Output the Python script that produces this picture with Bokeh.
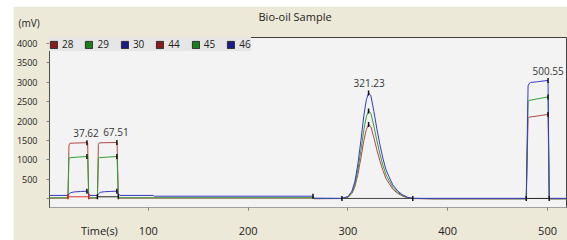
import math
from bokeh.plotting import figure
from bokeh.models import (ColumnDataSource, Legend, LegendItem, Label, FixedTicker, Range1d)
from bokeh.core.properties import value
from bokeh.embed import file_html
from bokeh.resources import INLINE

# ---------------- data ----------------
series_names = ["28", "29", "30", "44", "45", "46"]

# channel 28 (red)
t_r = [1, 19.5, 20.5, 21.5, 38.5, 39.2, 40.3, 49, 50, 51, 68, 68.7, 70, 265, 266,
       294, 300, 304, 307, 310, 313, 316, 318.5, 320.7, 323, 326, 329, 332, 335, 338,
       341, 345, 350, 355, 360, 365, 385, 478.7, 480.5, 481.5, 490, 500.5, 501.7, 519]
mv_r = [20, 20, 1380, 1430, 1445, 1445, 20, 20, 1400, 1440, 1450, 1445, 20, 20, 5,
        10, 40, 140, 315, 630, 1050, 1505, 1785, 1910, 1855, 1575, 1260, 980, 735, 530,
        405, 250, 140, 70, 30, 10, 0, 0, 2070, 2100, 2130, 2170, 0, 0]

# channel 29 (green)
t_g = [1, 19.5, 20.5, 21.5, 30, 38.5, 39.2, 40.3, 49, 50, 51, 60, 68, 68.7, 70, 265, 266,
       294, 300, 304, 307, 310, 313, 316, 318.5, 320.7, 323, 326, 329, 332, 335, 338,
       341, 345, 350, 355, 360, 365, 385, 478.7, 480.5, 481.5, 490, 500.5, 501.7, 519]
mv_g = [30, 30, 1040, 1060, 1075, 1090, 1085, 30, 30, 1040, 1060, 1075, 1090, 1085, 30, 30, 10,
        12, 50, 165, 375, 745, 1245, 1785, 2115, 2260, 2200, 1870, 1495, 1160, 870, 630,
        480, 300, 165, 85, 35, 15, 5, 5, 2500, 2530, 2570, 2620, 5, 5]

# channel 30 (blue)
t_b = [1, 19.5, 20.5, 22, 26, 32, 38.5, 40.3, 41.5, 49, 50, 52, 56, 62, 68.5, 70, 71.5,
       105, 106, 265, 266, 294, 300, 304, 307, 310, 313, 316, 318.5, 320.7, 323, 326,
       329, 332, 335, 338, 341, 345, 350, 355, 360, 365, 478.7, 480.5, 481.5, 483, 490,
       499.5, 500.5, 501.7, 519]
mv_b = [90, 90, 120, 160, 180, 190, 200, 130, 90, 90, 130, 170, 185, 192, 200, 130, 90,
        90, 70, 70, 20, 15, 60, 200, 450, 900, 1500, 2150, 2550, 2720, 2650, 2250,
        1800, 1400, 1050, 760, 580, 360, 200, 100, 40, 15, 15, 2900, 2960, 2990, 3010,
        3040, 3040, 15, 15]

# integration baselines
bl_start = [19.5, 49, 294, 478.7]
bl_end = [40.3, 70, 365, 501.7]
bl_level = [55, 55, 12, 12]

# peak markers
mk_t = [19.5, 40.3, 49, 70, 38.5, 38.5, 38.5, 68.5, 68.5, 68.5, 265, 294, 365,
        320.7, 320.7, 320.7, 478.7, 501.7, 500.5, 500.5, 500.5]
mk_v = [55, 55, 55, 55, 1445, 1090, 200, 1450, 1090, 200, 70, 12, 12,
        2720, 2260, 1910, 12, 12, 3040, 2620, 2170]

# peak retention times and apex heights
pk_rt = [37.62, 67.51, 321.23, 500.55]
pk_top = [1445, 1450, 2720, 3040]

y_ticks = [0, 500, 1000, 1500, 2000, 2500, 3000, 3500, 4000]
x_ticks = [100, 200, 300, 400, 500]
x_caption = "Time(s)"
x_caption_at = 51

# ---------------- figure ----------------
FONT = "Open Sans"
p = figure(width=554, height=234, margin=(6, 0, 0, 13),
           output_backend="svg", toolbar_location=None,
           x_range=Range1d(1, 519), y_range=Range1d(-220, 4145),
           min_border_left=35, min_border_right=1, min_border_top=31, min_border_bottom=22)
p.border_fill_color = "#ECE9D8"
p.background_fill_color = "#F3F3F3"
p.outline_line_color = "#404040"
p.grid.visible = False

p.title.text = "Bio-oil Sample"
p.title.align = "left"
p.title.offset = 209
p.title.standoff = 0
p.title.text_font = FONT
p.title.text_font_size = "11px"
p.title.text_font_style = "normal"
p.title.text_color = "#222222"

# axes
p.yaxis.ticker = FixedTicker(ticks=y_ticks)
p.yaxis.major_label_overrides = {0: ""}
p.yaxis.minor_tick_line_color = None
p.yaxis.major_tick_out = 3
p.yaxis.major_tick_in = 0
p.yaxis.major_tick_line_color = "#808080"
p.yaxis.axis_line_color = "#505050"
p.yaxis.major_label_text_font = FONT
p.yaxis.major_label_text_font_size = "9px"
p.yaxis.major_label_text_color = "#222222"
p.yaxis.major_label_standoff = 9

# x axis: the caption "Time(s)" is a label-only tick; marks come from minor ticks
p.xaxis.ticker = FixedTicker(ticks=[x_caption_at] + x_ticks, minor_ticks=x_ticks)
p.xaxis.major_label_overrides = {x_caption_at: x_caption}
p.xaxis.major_tick_line_color = None
p.xaxis.minor_tick_out = 3
p.xaxis.minor_tick_in = 0
p.xaxis.minor_tick_line_color = "#808080"
p.xaxis.axis_line_color = "#A0A0A0"
p.xaxis.major_label_text_font = FONT
p.xaxis.major_label_text_font_size = "11px"
p.xaxis.major_label_text_color = "#222222"
p.xaxis.major_label_standoff = 9

# lines
p.line(t_r, mv_r, line_color="#B04848", line_width=1)
p.line(t_g, mv_g, line_color="#30A030", line_width=1)
p.line(t_b, mv_b, line_color="#3838C8", line_width=1)

# integration baselines
p.segment(x0=bl_start, y0=bl_level, x1=bl_end, y1=bl_level,
          line_color=["#E03030", "#222222", "#444444", "#222222"], line_width=1)

# markers
mk_colors = ["#D02020", "#D02020"] + ["#111111"] * (len(mk_t) - 2)
p.scatter(mk_t, mk_v, marker="dash", angle=math.pi / 2, size=5,
          line_color=mk_colors, line_width=1.5)

# peak labels
lab_src = ColumnDataSource(dict(x=pk_rt, y=pk_top, t=["%.2f" % v for v in pk_rt]))
p.text(x="x", y="y", text="t", source=lab_src, text_align="center",
       text_baseline="middle", y_offset=-10, text_font=value(FONT),
       text_font_size="10px", text_color="#333333")

# legend (square swatches)
leg_colors = ["#8B1A1A", "#1A7F1A", "#1A1A8B", "#8B1A1A", "#1A7F1A", "#1A1A8B"]
items = []
nan = float("nan")
for name, c in zip(series_names, leg_colors):
    r = p.quad(left=[nan], right=[nan], bottom=[nan], top=[nan],
               fill_color=c, line_color="#303030", line_width=1)
    items.append(LegendItem(label=name, renderers=[r]))
legend = Legend(items=items, location="top_left", orientation="horizontal",
                margin=0, padding=2, spacing=11, glyph_width=9, glyph_height=9,
                label_standoff=4, label_width=11, label_height=9, label_text_font=FONT,
                label_text_font_size="10px", label_text_color="#222222",
                background_fill_color="#E6E6E6", background_fill_alpha=1.0,
                border_line_color=None)
p.add_layout(legend, "center")

# unit caption above the y axis (placed in the top panel, relative to it)
p.add_layout(Label(x=-31, y=15, x_units="screen", y_units="screen", text="(mV)",
                   text_font=FONT, text_font_size="10px", text_color="#222222",
                   text_align="left", text_baseline="middle"), "above")

open("out.html", "w").write(file_html(p, INLINE))
